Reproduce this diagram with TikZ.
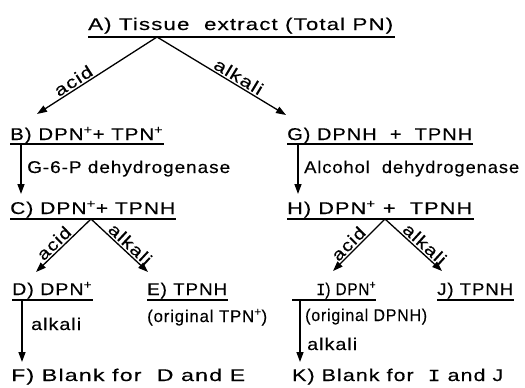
\documentclass[tikz,border=0pt]{standalone}
\usepackage{fontspec}
\usepackage{graphicx}
\setmainfont{Liberation Sans}[LetterSpace=5, FakeBold=0.3]
\newfontfamily\slabI{Liberation Mono}[FakeBold=0.3]
\usetikzlibrary{arrows.meta}

% set a line of lettering to a given width (in pt) keeping its height
\newcommand\fitw[2]{\resizebox{#1pt}{\height}{#2}}
\newcommand\pl{\textsuperscript{+}}
% capital I drawn with bars, as in the lettering
\newcommand\barI{{\slabI I}}

\tikzset{
  lbl/.style={inner sep=0pt, anchor=base west, font=\fontsize{17}{20}\selectfont},
  ul/.style={line width=1.3pt},
  arr/.style={line width=1.3pt, -{Triangle[length=10pt,width=7pt]}},
  tag/.style={font=\fontsize{17}{20}\selectfont, inner sep=2pt, sloped, above}
}

\begin{document}
\begin{tikzpicture}[x=1pt,y=-1pt]
\useasboundingbox (0,0) rectangle (525,388);

% --- row A
\node[lbl] (A) at (88,30) {\fitw{305}{A) Tissue\ \ extract (Total PN)}};
\draw[ul] (88,37) -- (395,37);
\coordinate (a0) at (157,37);
\coordinate (tB) at (37,114);
\coordinate (tG) at (286,115);
\draw[arr] (a0) -- (tB);
\draw[arr] (a0) -- (tG);
\path (tB) -- (a0) node[tag, pos=0.34] (acidA) {\fitw{42}{acid}};
\path (a0) -- (tG) node[tag, pos=0.6] (alkA) {\fitw{54}{alkali}};

% --- left branch
\node[lbl] (B) at (10,140) {\fitw{153}{B) DPN\pl+ TPN\pl}};
\draw[ul] (10,144) -- (164,144);
\coordinate (b0) at (21,144);
\coordinate (tC) at (21,194);
\draw[arr] (b0) -- (tC);
\node[lbl] (g6p) at (27,173) {\fitw{203}{G-6-P dehydrogenase}};

\node[lbl] (C) at (10,214) {\fitw{165}{C) DPN\pl+ TPNH}};
\draw[ul] (10,219) -- (176,219);
\coordinate (c0) at (91,219);
\coordinate (tD) at (36,272);
\coordinate (tE) at (148,272);
\draw[arr] (c0) -- (tD);
\draw[arr] (c0) -- (tE);
\path (tD) -- (c0) node[tag, pos=0.43] (acidC) {\fitw{40}{acid}};
\path (c0) -- (tE) node[tag, pos=0.59] (alkC) {\fitw{52}{alkali}};

\node[lbl] (D) at (12,295) {\fitw{80}{D) DPN\pl}};
\draw[ul] (12,300) -- (93,300);
\node[lbl] (E) at (147,295) {\fitw{80}{E) TPNH}};
\draw[ul] (147,300) -- (228,300);
\node[lbl] (Enote) at (147,322) {\fitw{120}{(original TPN\pl)}};

\coordinate (d0) at (22,300);
\coordinate (tF) at (22,362);
\draw[arr] (d0) -- (tF);
\node[lbl] (alkD) at (31,330) {\fitw{50}{alkali}};
\node[lbl] (F) at (11,381) {\fitw{234}{F) Blank\ for\ \ D and E}};

% --- right branch
\node[lbl] (G) at (287,140) {\fitw{185}{G) DPNH\ \ +\ \ TPNH}};
\draw[ul] (287,144) -- (473,144);
\coordinate (g0) at (298,144);
\coordinate (tH) at (298,194);
\draw[arr] (g0) -- (tH);
\node[lbl] (adh) at (304,173) {\fitw{215}{Alcohol\ \ dehydrogenase}};

\node[lbl] (H) at (287,214) {\fitw{185}{H) DPN\pl\ +\ \ TPNH}};
\draw[ul] (287,219) -- (474,219);
\coordinate (h0) at (385,219);
\coordinate (tI) at (333,271);
\coordinate (tJ) at (442,271);
\draw[arr] (h0) -- (tI);
\draw[arr] (h0) -- (tJ);
\path (tI) -- (h0) node[tag, pos=0.41] (acidH) {\fitw{40}{acid}};
\path (h0) -- (tJ) node[tag, pos=0.6] (alkH) {\fitw{52}{alkali}};

\node[lbl] (I) at (316,295) {\fitw{60}{\barI) DPN\pl}};
\draw[ul] (292,300) -- (376,300);
\node[lbl] (J) at (437,295) {\fitw{76}{J) TPNH}};
\draw[ul] (437,300) -- (514,300);
\coordinate (i0) at (300,300);
\coordinate (tK) at (300,362);
\draw[arr] (i0) -- (tK);
\node[lbl] (Inote) at (305,321) {\fitw{122}{(original DPNH)}};
\node[lbl] (alkI) at (307,350) {\fitw{50}{alkali}};
\node[lbl] (K) at (292,381) {\fitw{211}{K) Blank\ for\ \ \barI\ and J}};
\end{tikzpicture}
\end{document}
